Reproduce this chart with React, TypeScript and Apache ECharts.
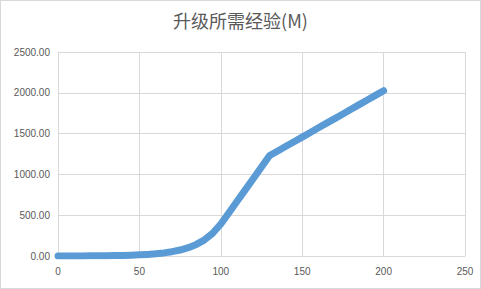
import React, { useEffect, useRef } from "react";
import * as echarts from "echarts";

const title = "升级所需经验(M)";
const levels = [
  0, 5, 10, 15, 20, 25, 30, 35, 40, 45, 50, 55, 60, 65, 70, 75, 80, 85, 90, 95,
  100, 105, 110, 115, 120, 125, 130, 135, 140, 145, 150, 155, 160, 165, 170,
  175, 180, 185, 190, 195, 200,
];
const expM = [
  0.5, 0.7, 1, 1.4, 2, 2.8, 3.9, 5.5, 7.5, 10.5, 14, 19.5, 27, 38, 53, 73, 102,
  142, 198, 278, 392, 530, 670, 810, 950, 1090, 1232, 1287, 1344, 1400, 1457,
  1514, 1571, 1628, 1684, 1741, 1798, 1855, 1911, 1968, 2025,
];
const xTicks = [0, 50, 100, 150, 200, 250];
const yTicks = [0, 500, 1000, 1500, 2000, 2500];

export default function App() {
  const ref = useRef<HTMLDivElement>(null);
  useEffect(() => {
    if (!ref.current) return;
    const chart = echarts.init(ref.current, undefined, { renderer: "svg" });
    const labelStyle = {
      color: "#595959",
      fontSize: 10,
      fontFamily: "Liberation Sans, Arial, sans-serif",
    };
    chart.setOption({
      animation: false,
      title: {
        text: title,
        left: "center",
        top: 6,
        textStyle: {
          color: "#595959",
          fontSize: 18,
          fontWeight: "normal",
          fontFamily: "Noto Sans CJK SC, sans-serif",
        },
      },
      grid: { left: 58, right: 16, top: 52, bottom: 33, containLabel: false },
      xAxis: {
        type: "value",
        min: xTicks[0],
        max: xTicks[xTicks.length - 1],
        interval: xTicks[1] - xTicks[0],
        axisLine: { show: true, lineStyle: { color: "#d9d9d9" } },
        axisTick: { show: false },
        splitLine: { show: true, lineStyle: { color: "#d9d9d9" } },
        axisLabel: { ...labelStyle, margin: 10 },
      },
      yAxis: {
        type: "value",
        min: yTicks[0],
        max: yTicks[yTicks.length - 1],
        interval: yTicks[1] - yTicks[0],
        axisLine: { show: true, lineStyle: { color: "#d9d9d9" } },
        axisTick: { show: false },
        splitLine: { show: true, lineStyle: { color: "#d9d9d9" } },
        axisLabel: {
          ...labelStyle,
          margin: 8,
          formatter: (v: number) => v.toFixed(2),
        },
      },
      series: [
        {
          type: "line",
          data: levels.map((l, i) => [l, expM[i]]),
          showSymbol: false,
          symbol: "none",
          lineStyle: { color: "#5b9bd5", width: 7, cap: "round", join: "round" },
          itemStyle: { color: "#5b9bd5" },
        },
      ],
    });
    return () => chart.dispose();
  }, []);
  return (
    <div
      style={{
        position: "fixed",
        left: 0,
        top: 0,
        width: 481,
        height: 289,
        boxSizing: "border-box",
        border: "1px solid #d9d9d9",
        background: "#fff",
      }}
    >
      <div ref={ref} style={{ position: "absolute", left: -1, top: -1, width: 481, height: 289 }} />
    </div>
  );
}
